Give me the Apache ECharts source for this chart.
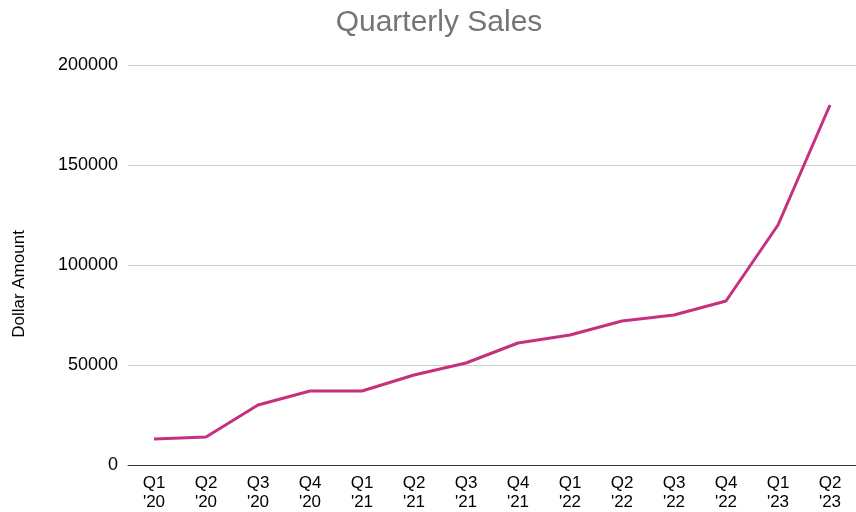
<!DOCTYPE html>
<html>
<head>
<meta charset="utf-8">
<script src="https://cdn.jsdelivr.net/npm/echarts@6/dist/echarts.min.js"></script>
<style>html,body{margin:0;padding:0;background:#fff}#c{width:856px;height:512px}</style>
</head>
<body>
<div id="c"></div>
<script>
const categories = ["Q1\n'20","Q2\n'20","Q3\n'20","Q4\n'20","Q1\n'21","Q2\n'21","Q3\n'21","Q4\n'21","Q1\n'22","Q2\n'22","Q3\n'22","Q4\n'22","Q1\n'23","Q2\n'23"];
const sales = [13000,14000,30000,37000,37000,45000,51000,61000,65000,72000,75000,82000,120000,180000];
const yTicks = {min:0, max:200000, interval:50000};

const FONT = 'Liberation Sans, Arial, Helvetica, sans-serif';
const chart = echarts.init(document.getElementById('c'));
chart.setOption({
  animation:false,
  title:{text:'Quarterly Sales', top:3, left:434, textAlign:'center',
    textStyle:{color:'#757575', fontSize:30, fontWeight:'normal', fontFamily:FONT}},
  grid:{left:128, top:65, width:736, height:401},
  xAxis:{type:'category', data:categories, boundaryGap:true,
    axisLine:{lineStyle:{color:'#333', width:1}}, axisTick:{show:false},
    axisLabel:{color:'#000', fontSize:17, fontFamily:FONT, lineHeight:19, margin:9, interval:0}},
  yAxis:{type:'value', min:yTicks.min, max:yTicks.max, interval:yTicks.interval,
    name:'Dollar Amount', nameLocation:'middle', nameGap:100, nameRotate:90,
    nameTextStyle:{color:'#000', fontSize:17, fontFamily:FONT, padding:[0,38,0,0]},
    axisLine:{show:false}, axisTick:{show:false},
    axisLabel:{color:'#000', fontSize:18, fontFamily:FONT, margin:10, formatter:v => String(v)},
    splitLine:{lineStyle:{color:'#cccccc', width:1}}},
  series:[{type:'line', data:sales, showSymbol:false, symbol:'none',
    lineStyle:{color:'#c5307f', width:3}, itemStyle:{color:'#c5307f'}}]
});
</script>
</body>
</html>
